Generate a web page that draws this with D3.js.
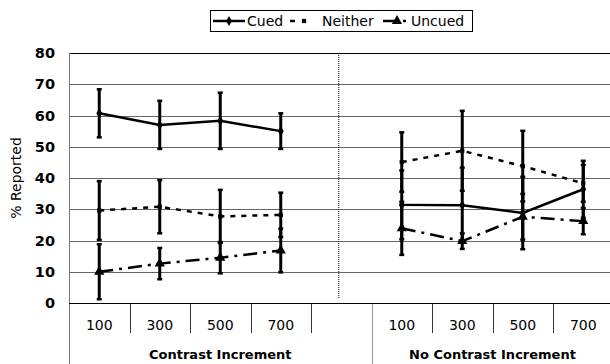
<!DOCTYPE html>
<html>
<head>
<meta charset="utf-8">
<script src="https://cdn.jsdelivr.net/npm/d3@7"></script>
<style>
  html, body { margin: 0; padding: 0; background: #fff; }
  svg { display: block; font-family: "DejaVu Sans", Verdana, sans-serif; }
</style>
</head>
<body>
<svg id="chart" width="610" height="364"></svg>
<script>
// category slots, the 5th one is the empty gap between the two conditions
const categories = ['100', '300', '500', '700', '', '100', '300', '500', '700']
const groups = ['Contrast Increment', 'No Contrast Increment']
const groupSlots = [[0, 4], [5, 8]]
const yTicks = [0, 10, 20, 30, 40, 50, 60, 70, 80]

const cued = [60.7, 57.0, 58.3, 55.0, null, 31.4, 31.3, 28.8, 36.4]
const cuedErr = [7.7, 7.7, 9.0, 5.7, null, 11.0, 12.0, 11.6, 9.1]
const neither = [29.6, 30.8, 27.7, 28.2, null, 45.1, 48.7, 43.8, 38.3]
const neitherErr = [9.4, 8.5, 8.5, 7.1, null, 9.5, 12.8, 11.3, 5.9]
const uncued = [10.0, 12.6, 14.5, 16.8, null, 23.9, 19.8, 27.6, 26.2]
const uncuedErr = [8.8, 5.0, 5.0, 7.0, null, 8.5, 2.5, 7.3, 4.2]

const series = [
  {name: 'Cued', values: cued, err: cuedErr, dash: null, marker: 'diamond'},
  {name: 'Neither', values: neither, err: neitherErr, dash: '5,6', marker: 'square'},
  {name: 'Uncued', values: uncued, err: uncuedErr, dash: '14,6,3,6', marker: 'triangle'}
]

const svg = d3.select('#chart')
const margin = {left: 69, top: 53, bottom: 303}

const x = d3.scaleBand()
  .domain(d3.range(categories.length))
  .range([margin.left, 613.5])
const y = d3.scaleLinear().domain([0, 80]).range([margin.bottom, margin.top])
const cx = i => x(i) + x.bandwidth() / 2

// gridlines
svg.append('g')
  .selectAll('line')
  .data(yTicks.filter(d => d > 0))
  .join('line')
  .attr('x1', margin.left)
  .attr('x2', 610)
  .attr('y1', d => Math.round(y(d)) + 0.5)
  .attr('y2', d => Math.round(y(d)) + 0.5)
  .attr('stroke', d => (d === 80 ? '#000' : '#666'))

// y axis labels
svg.append('g')
  .selectAll('text')
  .data(yTicks)
  .join('text')
  .attr('x', 55)
  .attr('y', d => y(d))
  .attr('dy', '0.36em')
  .attr('text-anchor', 'end')
  .attr('font-size', 14.5)
  .attr('font-weight', 'bold')
  .text(d => d)

svg.append('text')
  .attr('transform', `translate(21,${(margin.top + margin.bottom) / 2}) rotate(-90)`)
  .attr('text-anchor', 'middle')
  .attr('font-size', 14)
  .text('% Reported')

// left axis line runs to the bottom
svg.append('line')
  .attr('x1', margin.left + 0.5).attr('x2', margin.left + 0.5)
  .attr('y1', margin.top).attr('y2', 364)
  .attr('stroke', '#777')

// category ticks under the axis
const bounds = d3.range(1, categories.length + 1)
svg.append('g')
  .selectAll('line')
  .data(bounds)
  .join('line')
  .attr('x1', d => Math.round(x(0) + d * x.bandwidth()) + 0.5)
  .attr('x2', d => Math.round(x(0) + d * x.bandwidth()) + 0.5)
  .attr('y1', margin.bottom)
  .attr('y2', d => (d === groupSlots[1][0] ? 364 : 333))
  .attr('stroke', d => (d === groupSlots[1][0] ? '#999' : '#333'))

svg.append('g')
  .selectAll('text')
  .data(categories)
  .join('text')
  .attr('x', (d, i) => cx(i))
  .attr('y', 330)
  .attr('text-anchor', 'middle')
  .attr('font-size', 14)
  .text(d => d)

svg.append('g')
  .selectAll('text')
  .data(groups)
  .join('text')
  .attr('x', (d, i) => (x(groupSlots[i][0]) + x(groupSlots[i][1]) + x.bandwidth()) / 2)
  .attr('y', 359)
  .attr('text-anchor', 'middle')
  .attr('font-size', 13)
  .attr('font-weight', 'bold')
  .text(d => d)

// x axis
svg.append('line')
  .attr('x1', margin.left).attr('x2', 610)
  .attr('y1', margin.bottom + 0.5).attr('y2', margin.bottom + 0.5)
  .attr('stroke', '#000')

// dotted separator in the gap slot
svg.append('line')
  .attr('x1', cx(4) - 2.5).attr('x2', cx(4) - 2.5)
  .attr('y1', margin.top + 2).attr('y2', margin.bottom - 4)
  .attr('stroke', '#000')
  .attr('stroke-dasharray', '1,1')

// series lines
const line = d3.line()
  .defined(d => d != null)
  .x((d, i) => cx(i))
  .y(d => y(d))

svg.append('g')
  .selectAll('path')
  .data(series)
  .join('path')
  .attr('d', s => line(s.values))
  .attr('fill', 'none')
  .attr('stroke', '#000')
  .attr('stroke-width', 2.5)
  .attr('stroke-dasharray', s => s.dash)

// error bars
series.forEach(s => {
  const pts = s.values.map((v, i) => ({v, e: s.err[i], i})).filter(d => d.v != null)
  const g = svg.append('g').attr('stroke', '#000')
  g.selectAll('line.bar')
    .data(pts)
    .join('line')
    .attr('class', 'bar')
    .attr('x1', d => cx(d.i)).attr('x2', d => cx(d.i))
    .attr('y1', d => y(d.v + d.e)).attr('y2', d => y(d.v - d.e))
    .attr('stroke-width', 3)
  g.selectAll('line.cap')
    .data(pts.flatMap(d => [d.v + d.e, d.v - d.e].map(v => ({v, i: d.i}))))
    .join('line')
    .attr('class', 'cap')
    .attr('x1', d => cx(d.i) - 2.5).attr('x2', d => cx(d.i) + 2.5)
    .attr('y1', d => y(d.v)).attr('y2', d => y(d.v))
    .attr('stroke-width', 2.5)
})

const symbols = {
  diamond: d3.symbol(d3.symbolDiamond, 30),
  square: d3.symbol(d3.symbolSquare, 18),
  triangle: d3.symbol(d3.symbolTriangle, 45)
}

series.forEach(s => {
  svg.append('g')
    .selectAll('path')
    .data(s.values.map((v, i) => ({v, i})).filter(d => d.v != null))
    .join('path')
    .attr('transform', d => `translate(${cx(d.i)},${y(d.v)})`)
    .attr('d', symbols[s.marker])
    .attr('fill', '#000')
})

// legend
const legend = svg.append('g')
legend.append('rect')
  .attr('x', 210.5).attr('y', 10.5)
  .attr('width', 262).attr('height', 21)
  .attr('fill', '#fff').attr('stroke', '#000')

const legendItems = [
  {x0: 213, x1: 245, mx: 229, tx: 247},
  {x0: 290, x1: 296, mx: 304, tx: 322},
  {x0: 383, x1: 409, mx: 397, tx: 411}
]
const ly = 21
series.forEach((s, k) => {
  const it = legendItems[k]
  legend.append('line')
    .attr('x1', it.x0).attr('x2', it.x1)
    .attr('y1', ly).attr('y2', ly)
    .attr('stroke', '#000').attr('stroke-width', 2.5)
    .attr('stroke-dasharray', s.dash)
  legend.append('path')
    .attr('transform', `translate(${it.mx},${ly})`)
    .attr('d', symbols[s.marker])
  legend.append('text')
    .attr('x', it.tx).attr('y', ly)
    .attr('dy', '0.36em')
    .attr('font-size', 14)
    .text(s.name)
})
</script>
</body>
</html>
